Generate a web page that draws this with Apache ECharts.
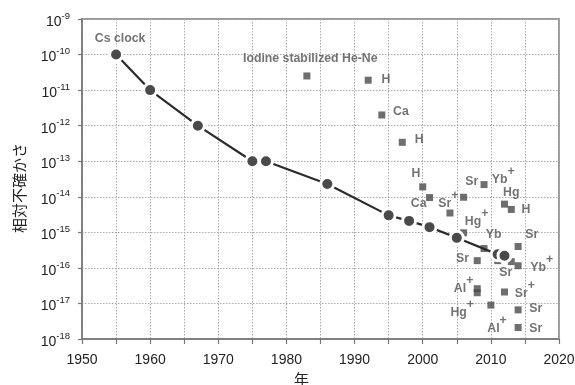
<!DOCTYPE html>
<html>
<head>
<meta charset="utf-8">
<script src="https://cdn.jsdelivr.net/npm/echarts@6/dist/echarts.min.js"></script>
<style>html,body{margin:0;padding:0;background:#fff}#c{width:575px;height:385px}</style>
</head>
<body>
<div id="c"></div>
<script>
// Cs clock (circles, connected)
const csYears = [1955, 1960, 1967, 1975, 1977, 1986, 1995, 1998, 2001, 2005, 2011, 2012];
const csValues = [1e-10, 1e-11, 1e-12, 1e-13, 1e-13, 2.3e-14, 3e-15, 2.1e-15, 1.4e-15, 7e-16, 2.4e-16, 2.2e-16];

// Optical frequency standards (squares)
const optYears = [1983, 1992, 1994, 1997, 2000, 2001, 2004, 2006, 2009, 2012, 2013,
  2006, 2009, 2008, 2011, 2013, 2014, 2014, 2008, 2008, 2012, 2010, 2014, 2014];
const optValues = [2.5e-11, 1.9e-11, 2e-12, 3.4e-13, 1.9e-14, 9.5e-15, 3.5e-15, 9.7e-15, 2.2e-14, 6.2e-15, 4.4e-15,
  9.7e-16, 3.5e-16, 1.6e-16, 1.6e-16, 1.5e-16, 4e-16, 1.15e-16, 2.6e-17, 2.0e-17, 2.1e-17, 9e-18, 6.6e-18, 2.1e-18];

// Annotation texts, positioned in data space (year, log10 value)
const labelTexts = ['Cs clock', 'Iodine stabilized He-Ne', 'H', 'Ca', 'H', 'H', 'Ca', 'Sr+', 'Sr', 'Yb+', 'Hg', 'H',
  'Hg+', 'Yb', 'Sr', 'Sr', 'Yb+', 'Sr', 'Al+', 'Sr+', 'Hg+', 'Sr', 'Al+', 'Sr'];
const labelYears = [1955.6, 1983.5, 1994.6, 1996.8, 1999.5, 1999.0, 1999.4, 2003.75, 2007.2, 2011.8, 2013.0, 2015.15,
  2007.9, 2010.4, 2016.0, 2005.85, 2017.45, 2012.2, 2006.0, 2015.0, 2005.8, 2016.6, 2010.9, 2016.6];
const labelExps = [-9.56, -10.10, -10.70, -11.61, -12.40, -13.36, -14.20, -14.07, -13.575, -13.415, -13.885, -14.35,
  -14.59, -15.074, -15.074, -15.73, -15.89, -16.134, -16.48, -16.6, -17.155, -17.136, -17.605, -17.7];

// Axis ticks
const xMin = 1950, xMax = 2020, xStep = 5;
const yMin = 1e-18, yMax = 1e-9;

const chart = echarts.init(document.getElementById('c'));

const labelData = labelTexts.map((t, i) => ({ value: [labelYears[i], Math.pow(10, labelExps[i])], text: t }));

chart.setOption({
  animation: false,
  grid: { left: 82, right: 16, top: 19, bottom: 46, show: true, borderColor: '#999', borderWidth: 2,
    backgroundColor: 'transparent', containLabel: false, outerBoundsMode: 'none' },
  xAxis: {
    type: 'value', min: xMin, max: xMax, interval: xStep,
    name: '年', nameLocation: 'middle', nameGap: 31,
    nameTextStyle: { fontFamily: 'Noto Sans CJK JP', fontSize: 15, color: '#222', padding: [0, 38, 0, 0] },
    axisLine: { show: true, lineStyle: { color: '#777', width: 1.5 } },
    axisTick: { show: true, inside: false, length: 5, lineStyle: { color: '#777', width: 1.2 } },
    axisLabel: {
      margin: 14, fontFamily: 'Liberation Sans', fontSize: 14, color: '#222',
      formatter: v => (v % 10 === 0 ? String(v) : '')
    },
    splitLine: { show: true, lineStyle: { color: '#aaa', type: [1.5, 1.5], width: 1 } }
  },
  yAxis: {
    type: 'log', logBase: 10, min: yMin, max: yMax,
    name: '相対不確かさ', nameLocation: 'middle', nameGap: 55,
    nameTextStyle: { fontFamily: 'Noto Sans CJK JP', fontSize: 15, color: '#222', padding: [0, 18, 0, 0] },
    axisLine: { show: true, lineStyle: { color: '#777', width: 1.5 } },
    axisTick: { show: true, inside: false, length: 4, lineStyle: { color: '#777', width: 1.2 } },
    axisLabel: {
      margin: 12,
      formatter: v => '{b|10}{s|' + Math.round(Math.log10(v)) + '}',
      rich: {
        b: { fontFamily: 'Liberation Sans', fontSize: 14, color: '#222', padding: [6, 0, 0, 0] },
        s: { fontFamily: 'Liberation Sans', fontSize: 9.5, color: '#222', padding: [0, 0, 6, 0] }
      }
    },
    splitLine: { show: true, lineStyle: { color: '#aaa', type: [1.5, 1.5], width: 1 } }
  },
  series: [
    {
      type: 'scatter', name: 'optical', z: 2,
      data: optYears.map((y, i) => [y, optValues[i]]),
      symbol: 'rect', symbolSize: 7,
      itemStyle: { color: '#4a4a4a' }
    },
    {
      type: 'line', name: 'Cs', z: 3,
      data: csYears.map((y, i) => [y, csValues[i]]),
      symbol: 'circle', symbolSize: 13, showAllSymbol: true,
      lineStyle: { color: '#2b2b2b', width: 2.2 },
      itemStyle: { color: '#4a4a4a', borderColor: '#fff', borderWidth: 3 }
    },
    {
      type: 'scatter', name: 'labels', z: 4, silent: true,
      data: labelData, symbolSize: 0,
      label: {
        show: true, position: 'inside', align: 'center', verticalAlign: 'middle',
        formatter: p => {
          const t = p.data.text;
          if (t.endsWith('+')) return '{m|' + t.slice(0, -1) + '}{p|+}';
          return '{n|' + t + '}';
        },
        rich: {
          n: { fontFamily: 'Liberation Sans', fontWeight: 'bold', fontSize: 12.3, color: '#505050' },
          m: { fontFamily: 'Liberation Sans', fontWeight: 'bold', fontSize: 12.3, color: '#505050', padding: [8, 0, 0, 0] },
          p: { fontFamily: 'Liberation Sans', fontWeight: 'bold', fontSize: 12.3, color: '#505050', padding: [0, 0, 8, 0] }
        }
      }
    }
  ]
});
</script>
</body>
</html>
